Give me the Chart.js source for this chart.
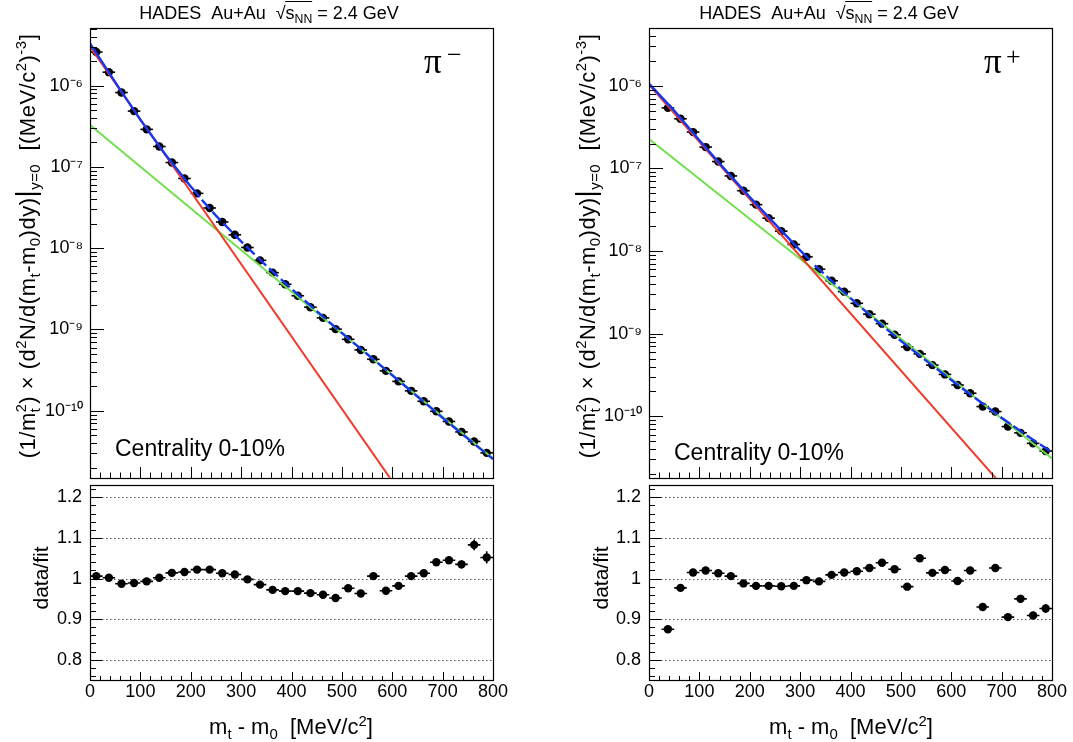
<!DOCTYPE html>
<html><head><meta charset="utf-8">
<script src="https://cdn.jsdelivr.net/npm/chart.js@4.4.1/dist/chart.umd.min.js"></script>
<style>
html,body{margin:0;padding:0;background:#fff;}
#wrap{position:relative;width:1073px;height:742px;overflow:hidden;background:#fff;font-family:"Liberation Sans",Arial,Helvetica,sans-serif;color:#000;}
canvas{position:absolute;}
.t{position:absolute;white-space:nowrap;line-height:1;}
.rot{position:absolute;white-space:nowrap;line-height:1;transform:translate(-50%,-50%) rotate(-90deg);}
sub,sup{font-size:0.68em;line-height:0;}
sub{vertical-align:-0.35em;}
sup{vertical-align:0.55em;}
.stk{display:inline-block;vertical-align:-0.36em;font-size:0.66em;line-height:1;}
.stk>span{display:block;}
.ov{border-top:1px solid #000;padding-top:1px;}
.ytit{font-size:22px;letter-spacing:0.5px;}
</style></head>
<body><div id="wrap">
<canvas id="lt" width="520" height="482" style="left:0;top:0"></canvas>
<canvas id="lb" width="520" height="261" style="left:0;top:481px"></canvas>
<canvas id="rt" width="513" height="482" style="left:560px;top:0"></canvas>
<canvas id="rb" width="513" height="261" style="left:560px;top:481px"></canvas>

<div class="t" style="left:269px;top:4px;font-size:18px;transform:translateX(-50%)">HADES&nbsp;&nbsp;Au+Au&nbsp;&nbsp;√<span class="ov">s<sub>NN</sub></span> = 2.4 GeV</div>
<div class="t" style="left:829px;top:4px;font-size:18px;transform:translateX(-50%)">HADES&nbsp;&nbsp;Au+Au&nbsp;&nbsp;√<span class="ov">s<sub>NN</sub></span> = 2.4 GeV</div>

<div class="t" style="left:424px;top:44px;font-family:'Liberation Serif',serif;font-size:35px">π</div>
<div class="t" style="left:447px;top:42px;font-family:'Liberation Serif',serif;font-size:26px">−</div>
<div class="t" style="left:984px;top:44px;font-family:'Liberation Serif',serif;font-size:35px">π</div>
<div class="t" style="left:1006px;top:44px;font-family:'Liberation Serif',serif;font-size:26px">+</div>

<div class="t" style="left:115px;top:437px;font-size:23px">Centrality 0-10%</div>
<div class="t" style="left:674px;top:441px;font-size:23px">Centrality 0-10%</div>

<div class="rot ytit" style="left:27px;top:246px">(1/m<span class="stk"><span>2</span><span>t</span></span>) × (d<sup>2</sup>N/d(m<sub>t</sub>-m<sub>0</sub>)dy)<span style="font-size:1.25em">|</span><sub>y=0</sub>&nbsp;&nbsp;[(MeV/c<sup>2</sup>)<sup>-3</sup>]</div>
<div class="rot ytit" style="left:587px;top:246px">(1/m<span class="stk"><span>2</span><span>t</span></span>) × (d<sup>2</sup>N/d(m<sub>t</sub>-m<sub>0</sub>)dy)<span style="font-size:1.25em">|</span><sub>y=0</sub>&nbsp;&nbsp;[(MeV/c<sup>2</sup>)<sup>-3</sup>]</div>

<div class="rot" style="left:40px;top:578px;font-size:21px">data/fit</div>
<div class="rot" style="left:600px;top:578px;font-size:21px">data/fit</div>

<div class="t" style="left:291px;top:716px;font-size:22px;transform:translateX(-50%)">m<sub>t</sub> - m<sub>0</sub>&nbsp;&nbsp;[MeV/c<sup>2</sup>]</div>
<div class="t" style="left:851px;top:716px;font-size:22px;transform:translateX(-50%)">m<sub>t</sub> - m<sub>0</sub>&nbsp;&nbsp;[MeV/c<sup>2</sup>]</div>
</div>
<script>
// ===================== DATA =====================
const binsPiMinus = [12.5,37.5,62.5,87.5,112.5,137.5,162.5,187.5,212.5,237.5,262.5,287.5,312.5,337.5,362.5,387.5,412.5,437.5,462.5,487.5,512.5,537.5,562.5,587.5,612.5,637.5,662.5,687.5,712.5,737.5,762.5,787.5];
const yieldPiMinus = [2.58e-6,1.46e-6,8.2e-7,4.85e-7,2.89e-7,1.78e-7,1.13e-7,7.2e-8,4.72e-8,3.12e-8,2.1e-8,1.46e-8,1.02e-8,7.08e-9,5.0e-9,3.6e-9,2.6e-9,1.88e-9,1.39e-9,1.01e-9,7.57e-10,5.6e-10,4.3e-10,3.1e-10,2.3e-10,1.76e-10,1.31e-10,9.86e-11,7.4e-11,5.5e-11,4.2e-11,3.04e-11];
const ratioPiMinus = [1.006,1.002,0.987,0.989,0.993,1.002,1.014,1.016,1.022,1.022,1.013,1.010,0.998,0.985,0.972,0.969,0.969,0.964,0.960,0.952,0.976,0.963,1.006,0.970,0.982,1.006,1.013,1.040,1.045,1.035,1.083,1.052];
const ratioErrPiMinus = [0.003,0.003,0.003,0.003,0.003,0.003,0.003,0.003,0.003,0.003,0.003,0.003,0.003,0.003,0.003,0.003,0.004,0.004,0.004,0.004,0.005,0.005,0.005,0.005,0.006,0.006,0.007,0.008,0.009,0.010,0.013,0.015];

const binsPiPlus = [37.5,62.5,87.5,112.5,137.5,162.5,187.5,212.5,237.5,262.5,287.5,312.5,337.5,362.5,387.5,412.5,437.5,462.5,487.5,512.5,537.5,562.5,587.5,612.5,637.5,662.5,687.5,712.5,737.5,762.5,787.5];
const yieldPiPlus = [5.4e-7,3.98e-7,2.75e-7,1.81e-7,1.21e-7,8.1e-8,5.37e-8,3.64e-8,2.5e-8,1.74e-8,1.2e-8,8.5e-9,6.03e-9,4.36e-9,3.22e-9,2.33e-9,1.72e-9,1.32e-9,9.7e-10,6.9e-10,5.69e-10,4.16e-10,3.21e-10,2.39e-10,1.9e-10,1.31e-10,1.14e-10,7.5e-11,6.3e-11,4.7e-11,3.8e-11];
const ratioPiPlus = [0.875,0.977,1.015,1.020,1.013,1.006,0.988,0.982,0.982,0.981,0.982,0.996,0.993,1.009,1.015,1.018,1.026,1.039,1.023,0.980,1.050,1.014,1.021,0.994,1.020,0.930,1.026,0.905,0.950,0.909,0.926];
const ratioErrPiPlus = [0.003,0.003,0.003,0.003,0.003,0.003,0.003,0.003,0.003,0.003,0.003,0.003,0.003,0.003,0.004,0.004,0.004,0.004,0.004,0.005,0.005,0.005,0.005,0.006,0.006,0.006,0.007,0.007,0.010,0.009,0.011];

const binHalfWidth = 12.5;

// fit components
const redPiMinusX = [0, 600];
const redPiMinusY = [3.0e-6, 1.36e-11];
const greenPiMinusX = [0, 800];
const greenPiMinusY = [3.27e-7, 2.59e-11];
const bluePiMinusLowX = [0, 50, 100, 150, 200, 218];
const bluePiMinusLowY = [3.3e-6, 1.10e-6, 3.78e-7, 1.41e-7, 5.72e-8, 4.25e-8];
const bluePiMinusHighX = [222, 250, 300, 350, 400, 450, 500, 550, 600, 650, 700, 750, 800];
const bluePiMinusHighY = [3.93e-8, 2.51e-8, 1.21e-8, 6.08e-9, 3.16e-9, 1.68e-9, 9.07e-10, 4.99e-10, 2.74e-10, 1.50e-10, 8.19e-11, 4.54e-11, 2.55e-11];

const redPiPlusX = [0, 700];
const redPiPlusY = [1.03e-6, 1.48e-11];
const greenPiPlusX = [0, 800];
const greenPiPlusY = [2.27e-7, 3.09e-11];
const bluePiPlusLowX = [0, 50, 100, 150, 200, 250, 300, 319];
const bluePiPlusLowY = [1.06e-6, 5.0e-7, 2.19e-7, 9.8e-8, 4.49e-8, 2.13e-8, 1.02e-8, 7.8e-9];
const bluePiPlusHighX = [329, 350, 400, 450, 500, 550, 600, 650, 700, 750, 800];
const bluePiPlusHighY = [6.7e-9, 5.12e-9, 2.69e-9, 1.46e-9, 8.17e-10, 4.72e-10, 2.75e-10, 1.62e-10, 9.6e-11, 5.85e-11, 3.65e-11];

// axes
const xTickValues = [0, 100, 200, 300, 400, 500, 600, 700, 800];
const xTickLabels = ['0', '100', '200', '300', '400', '500', '600', '700', '800'];
const logDecades = [-6, -7, -8, -9, -10];
const logTickLabels = ['10⁻⁶', '10⁻⁷', '10⁻⁸', '10⁻⁹', '10⁻¹⁰'];
const ratioTickValues = [0.8, 0.9, 1.0, 1.1, 1.2];
const ratioTickLabels = ['0.8', '0.9', '1', '1.1', '1.2'];
const rangePiMinus = [1.5e-11, 5.1e-6];
const rangePiPlus = [1.8e-11, 5.0e-6];
const ratioRange = [0.75, 1.23];

// ===================== helpers =====================
Chart.defaults.font.family = '"Liberation Sans", Arial, Helvetica, sans-serif';
Chart.defaults.color = '#000';

const pts = (xs, ys) => xs.map((x, i) => ({x: x, y: ys[i]}));

const logMajorVals = logDecades.map(e => Math.pow(10, e));
function logMinorVals(min, max) {
  const out = [];
  for (let e = -12; e <= -5; e++) for (let m = 2; m <= 9; m++) {
    const v = m * Math.pow(10, e);
    if (v > min && v < max) out.push(v);
  }
  return out;
}
const xMinorVals = []; for (let v = 0; v <= 800; v += 20) if (v % 100 !== 0) xMinorVals.push(v);
const ratioMinorVals = []; for (let k = 38; k <= 61; k++) { const v = k * 0.02; if (Math.abs(v * 10 - Math.round(v * 10)) > 1e-6) ratioMinorVals.push(v); }

function fixSize(prop, val) {
  return s => { s[prop] = val; s.paddingTop = 0; s.paddingBottom = 0; s.paddingLeft = 0; s.paddingRight = 0; };
}

function makeFrame(cfg) {
  return {
    id: 'rootFrame',
    beforeDatasetsDraw(chart) {
      const {ctx, chartArea: a, scales} = chart;
      const x = scales.x, y = scales.y;
      ctx.save();
      if (cfg.grid) {
        ctx.strokeStyle = '#555'; ctx.lineWidth = 1; ctx.setLineDash([1.5, 2.5]);
        cfg.grid.forEach(v => {
          const py = Math.round(y.getPixelForValue(v)) + 0.5;
          ctx.beginPath(); ctx.moveTo(a.left, py); ctx.lineTo(a.right, py); ctx.stroke();
        });
        ctx.setLineDash([]);
      }
      ctx.strokeStyle = '#000'; ctx.lineWidth = 1.6;
      chart.data.datasets.forEach(ds => {
        if (!ds.errX) return;
        ds.data.forEach((d, j) => {
          const px = x.getPixelForValue(d.x), py = y.getPixelForValue(d.y);
          ctx.beginPath();
          ctx.moveTo(x.getPixelForValue(d.x - ds.errX), py);
          ctx.lineTo(x.getPixelForValue(d.x + ds.errX), py);
          if (ds.errY) {
            ctx.moveTo(px, y.getPixelForValue(d.y - ds.errY[j]));
            ctx.lineTo(px, y.getPixelForValue(d.y + ds.errY[j]));
          }
          ctx.stroke();
        });
      });
      ctx.restore();
    },
    afterDraw(chart) {
      const {ctx, chartArea: a, scales} = chart;
      const x = scales.x, y = scales.y;
      const L = Math.round(a.left), R = Math.round(a.right), T = Math.round(a.top), B = Math.round(a.bottom);
      ctx.save();
      ctx.strokeStyle = '#000'; ctx.lineWidth = 1;
      ctx.beginPath();
      cfg.yMajor.forEach(v => { const p = Math.round(y.getPixelForValue(v)) + 0.5; ctx.moveTo(L, p); ctx.lineTo(L + cfg.yMajorLen, p); });
      cfg.yMinor.forEach(v => { const p = Math.round(y.getPixelForValue(v)) + 0.5; ctx.moveTo(L, p); ctx.lineTo(L + cfg.yMinorLen, p); });
      cfg.xMajor.forEach(v => { const p = Math.round(x.getPixelForValue(v)) + 0.5; ctx.moveTo(p, B); ctx.lineTo(p, B - cfg.xMajorLen); });
      cfg.xMinor.forEach(v => { const p = Math.round(x.getPixelForValue(v)) + 0.5; ctx.moveTo(p, B); ctx.lineTo(p, B - cfg.xMinorLen); });
      ctx.stroke();
      ctx.lineWidth = 1.2;
      ctx.strokeRect(L + 0.5, T + 0.5, R - L, B - T);
      ctx.restore();
    }
  };
}

const RED = '#f03a2a', GREEN = '#6fe04c', BLUE = '#1736f0';

function spectrumChart(id, bins, yields, red, green, blueLow, blueHigh, range, yWidth, padRight) {
  return new Chart(document.getElementById(id), {
    type: 'scatter',
    data: { datasets: [
      { data: pts(blueLow[0], blueLow[1]), showLine: true, borderColor: BLUE, borderWidth: 2.4, pointRadius: 0, order: 1 },
      { data: pts(blueHigh[0], blueHigh[1]), showLine: true, borderColor: BLUE, borderWidth: 2.4, borderDash: [12, 4], pointRadius: 0, order: 1 },
      { data: pts(red[0], red[1]), showLine: true, borderColor: RED, borderWidth: 2, pointRadius: 0, order: 2 },
      { data: pts(green[0], green[1]), showLine: true, borderColor: GREEN, borderWidth: 2, pointRadius: 0, order: 3 },
      { data: pts(bins, yields), showLine: false, pointRadius: 4.2, pointBackgroundColor: '#000', pointBorderWidth: 0, errX: binHalfWidth, order: 10 }
    ]},
    options: {
      responsive: false, animation: false, devicePixelRatio: 1,
      layout: { padding: { top: 28, right: padRight, bottom: 1, left: 0 } },
      plugins: { legend: { display: false }, tooltip: { enabled: false } },
      scales: {
        x: { type: 'linear', min: 0, max: 800, bounds: 'data', display: false },
        y: { type: 'logarithmic', min: range[0], max: range[1], bounds: 'data',
             afterFit: fixSize('width', yWidth),
             afterBuildTicks: s => { s.ticks = logMajorVals.map(v => ({ value: v })); },
             ticks: { autoSkip: false, padding: 7, font: { size: 18 }, color: '#000',
                      callback: (v) => { const i = logMajorVals.findIndex(m => Math.abs(m - v) / m < 1e-6); return i >= 0 ? logTickLabels[i] : ''; } },
             grid: { display: false, drawTicks: false }, border: { display: false } }
      }
    },
    plugins: [makeFrame({ yMajor: logMajorVals, yMinor: logMinorVals(range[0], range[1]), yMajorLen: 14, yMinorLen: 7,
                          xMajor: xTickValues, xMinor: xMinorVals, xMajorLen: 11, xMinorLen: 5.5 })]
  });
}

function ratioChart(id, bins, ratio, err, yWidth, padRight) {
  return new Chart(document.getElementById(id), {
    type: 'scatter',
    data: { datasets: [
      { data: pts(bins, ratio), showLine: false, pointRadius: 4.2, pointBackgroundColor: '#000', pointBorderWidth: 0, errX: binHalfWidth, errY: err }
    ]},
    options: {
      responsive: false, animation: false, devicePixelRatio: 1,
      layout: { padding: { top: 0, right: padRight, bottom: 0, left: 0 } },
      plugins: { legend: { display: false }, tooltip: { enabled: false } },
      scales: {
        x: { type: 'linear', min: 0, max: 800, bounds: 'data',
             afterFit: fixSize('height', 62),
             afterBuildTicks: s => { s.ticks = xTickValues.map(v => ({ value: v })); },
             ticks: { autoSkip: false, maxRotation: 0, padding: 1, font: { size: 18 }, color: '#000',
                      callback: (v) => { const i = xTickValues.indexOf(v); return i >= 0 ? xTickLabels[i] : ''; } },
             grid: { display: false, drawTicks: false }, border: { display: false } },
        y: { type: 'linear', min: ratioRange[0], max: ratioRange[1], bounds: 'data',
             afterFit: fixSize('width', yWidth),
             afterBuildTicks: s => { s.ticks = ratioTickValues.map(v => ({ value: v })); },
             ticks: { autoSkip: false, padding: 8, font: { size: 18 }, color: '#000',
                      callback: (v) => { const i = ratioTickValues.findIndex(m => Math.abs(m - v) < 1e-6); return i >= 0 ? ratioTickLabels[i] : ''; } },
             grid: { display: false, drawTicks: false }, border: { display: false } }
      }
    },
    plugins: [makeFrame({ grid: ratioTickValues, yMajor: ratioTickValues, yMinor: ratioMinorVals, yMajorLen: 12, yMinorLen: 6,
                          xMajor: xTickValues, xMinor: xMinorVals, xMajorLen: 8, xMinorLen: 4 })]
  });
}

spectrumChart('lt', binsPiMinus, yieldPiMinus, [redPiMinusX, redPiMinusY], [greenPiMinusX, greenPiMinusY],
              [bluePiMinusLowX, bluePiMinusLowY], [bluePiMinusHighX, bluePiMinusHighY], rangePiMinus, 90, 27);
spectrumChart('rt', binsPiPlus, yieldPiPlus, [redPiPlusX, redPiPlusY], [greenPiPlusX, greenPiPlusY],
              [bluePiPlusLowX, bluePiPlusLowY], [bluePiPlusHighX, bluePiPlusHighY], rangePiPlus, 89, 21);
ratioChart('lb', binsPiMinus, ratioPiMinus, ratioErrPiMinus, 90, 27);
ratioChart('rb', binsPiPlus, ratioPiPlus, ratioErrPiPlus, 89, 21);
</script>
</body></html>
